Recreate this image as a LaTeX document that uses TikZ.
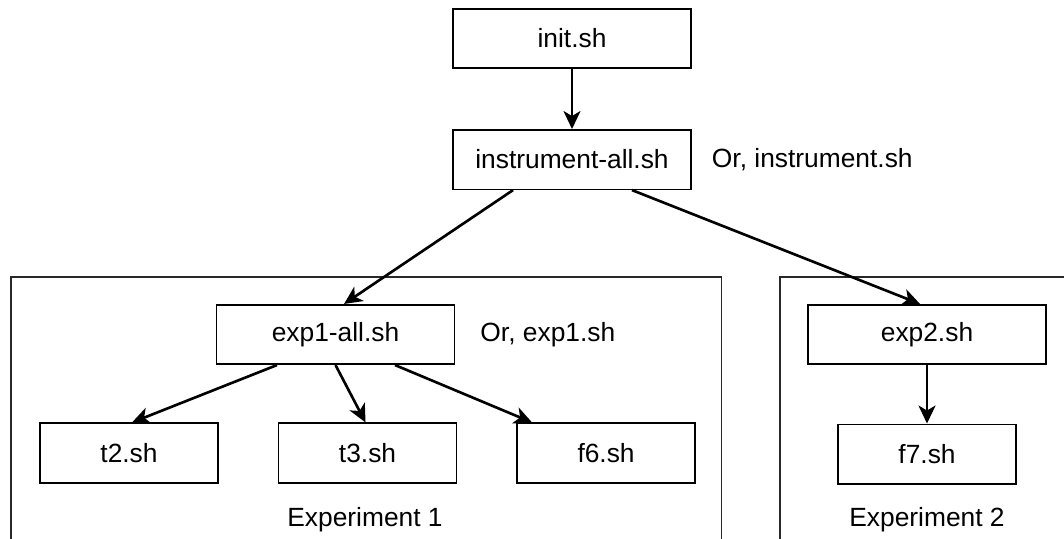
\documentclass[tikz,border=0pt]{standalone}
\usepackage{fontspec}
\setmainfont{Liberation Sans}
\usetikzlibrary{arrows.meta, positioning}
\definecolor{groupgray}{RGB}{40, 40, 40}
\tikzset{
  script/.style={rectangle, draw=black, line width=0.9pt, minimum height=1.19cm,
              minimum width=4.76cm, align=center, font=\fontsize{15}{18}\selectfont},
  leaf/.style={script, minimum width=3.56cm},
  note/.style={font=\fontsize{15}{18}\selectfont},
  grouptitle/.style={font=\fontsize{15}{18}\selectfont},
  group/.style={rectangle, draw=groupgray, line width=0.9pt, anchor=north west},
  flow/.style={-{Stealth[length=0.36cm, width=0.34cm, inset=0.1cm]}, line width=1.5pt},
}
\begin{document}
\begin{tikzpicture}[x=0.02cm, y=-0.02cm, node distance=1.2cm and 1.18cm]
    \useasboundingbox (0,0) rectangle (1064,538);
    \clip (0,0) rectangle (1064,538);

    % experiment frames (run off the page at the bottom)
    \node[group, minimum width=14.22cm, minimum height=6cm] (grp1) at (10,276) {};
    \node[group, minimum width=8cm, minimum height=6cm] (grp2) at (779,276) {};

    \node[script] (init) at (572,38.5) {init.sh};
    \node[script, below=of init] (instr) {instrument-all.sh};
    \node[note, right=0.28cm of instr] (instrnote) {Or, instrument.sh};

    \node[script] (exp1) at (335.5,334.5) {exp1-all.sh};
    \node[note, right=0.38cm of exp1] (exp1note) {Or, exp1.sh};
    \node[leaf] (t2) at (129,453) {t2.sh};
    \node[leaf, right=of t2] (t3) {t3.sh};
    \node[leaf, right=of t3] (f6) {f6.sh};

    \node[script] (exp2) at (927,334.5) {exp2.sh};
    \node[leaf, below=1.17cm of exp2] (f7) {f7.sh};

    \node[grouptitle] (grp1title) at (365,520) {Experiment 1};
    \node[grouptitle] (grp2title) at (927,520) {Experiment 2};

    \draw[flow] (init) -- (instr);
    \draw[flow] ([xshift=-1.18cm]instr.south) -- ([xshift=0.17cm]exp1.north);
    \draw[flow] ([xshift=1.2cm]instr.south) -- ([xshift=-0.14cm]exp2.north);
    \draw[flow] ([xshift=-1.17cm]exp1.south) -- ([xshift=0.06cm]t2.north);
    \draw[flow] (exp1.south) -- ([xshift=-0.04cm]t3.north);
    \draw[flow] ([xshift=1.19cm]exp1.south) -- ([xshift=-1.48cm]f6.north);
    \draw[flow] (exp2) -- (f7);
\end{tikzpicture}
\end{document}
